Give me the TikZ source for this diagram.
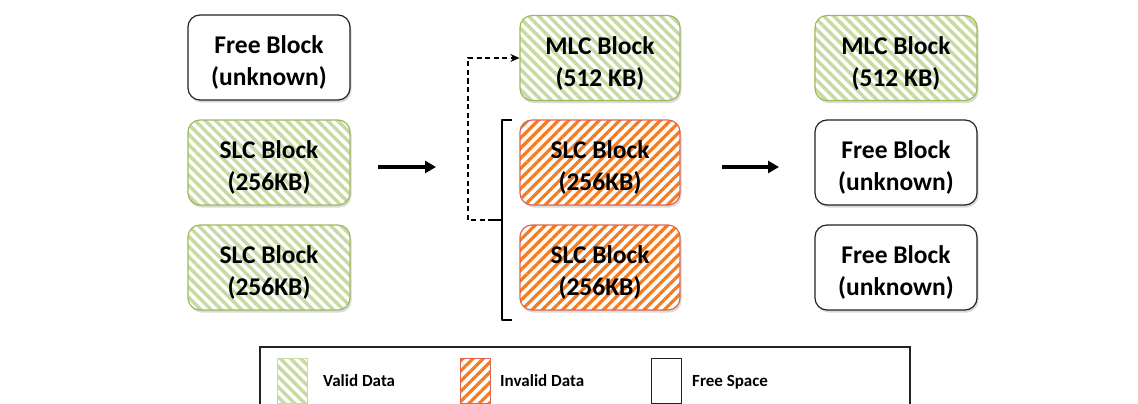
\documentclass[tikz,border=0pt]{standalone}
\usepackage{fontspec}
\setmainfont{Carlito}
\usetikzlibrary{patterns.meta,shadows,arrows.meta}
\definecolor{gstripe}{HTML}{C8DAA2}
\definecolor{gborder}{HTML}{9BBB59}
\definecolor{ostripe}{HTML}{F47B20}
\definecolor{oborder}{HTML}{E0654E}
\definecolor{dgray}{HTML}{222222}
\tikzset{
  blk/.style={rounded corners=12pt, minimum width=162pt, minimum height=85pt, align=center,
    font=\fontsize{25.5}{32}\selectfont\bfseries, inner sep=0pt, line width=1.2pt,
    text height=60pt,
    drop shadow={shadow xshift=1.5pt, shadow yshift=-2.5pt, opacity=.3},
    preaction={fill=white}},
  validblk/.style={blk, draw=gborder, pattern={Lines[angle=-45,distance=7.2pt,line width=3.4pt]}, pattern color=gstripe},
  invalidblk/.style={blk, draw=oborder, pattern={Lines[angle=45,distance=7.2pt,line width=3.2pt]}, pattern color=ostripe},
  freeblk/.style={blk, draw=dgray},
  swatch/.style={minimum width=30pt, minimum height=45pt, inner sep=0pt, line width=1pt},
  legtext/.style={anchor=base west, font=\fontsize{17}{20}\selectfont\bfseries, inner sep=0pt},
  bigarrow/.style={line width=3.5pt, -{Triangle[length=11pt,width=12pt]}},
}
\begin{document}
\begin{tikzpicture}[x=1pt,y=-1pt]
\useasboundingbox (0,0) rectangle (1138,404);
\clip (0,0) rectangle (1138,404);
% left column
\node[freeblk] (l1) at (269,57.5) {Free Block\\(unknown)};
\node[validblk] (l2) at (269,162.5) {SLC Block\\(256KB)};
\node[validblk] (l3) at (269,267.5) {SLC Block\\(256KB)};
% middle column
\node[validblk, minimum width=160pt] (m1) at (600,58) {MLC Block\\(512 KB)};
\node[invalidblk, minimum width=160pt] (m2) at (600,162.5) {SLC Block\\(256KB)};
\node[invalidblk, minimum width=160pt] (m3) at (600,267.5) {SLC Block\\(256KB)};
% right column
\node[validblk] (r1) at (896,58) {MLC Block\\(512 KB)};
\node[freeblk] (r2) at (896,162.5) {Free Block\\(unknown)};
\node[freeblk] (r3) at (896,267.5) {Free Block\\(unknown)};
% arrows
\coordinate (a1s) at (378,167);
\coordinate (a1e) at (436,167);
\coordinate (a2s) at (722,167);
\coordinate (a2e) at (779,167);
\draw[bigarrow] (a1s) -- (a1e);
\draw[bigarrow] (a2s) -- (a2e);
% bracket
\coordinate (bt) at (512,120);
\coordinate (bb) at (512,320);
\coordinate (bm) at (493,220);
\draw[line width=1.6pt, line join=round] (bt) -- (502,120) -- (502,320) -- (bb);
\draw[line width=1.6pt] (502,220) -- (bm);
\coordinate (dk) at (468,220);
\draw[line width=1.1pt, dash pattern=on 5pt off 3.5pt, -{Stealth[length=9pt,width=8pt]}]
  (bm) -- (dk) |- (m1.west);
% legend
\draw[line width=1.4pt, draw=dgray] (260,347) rectangle (910,420);
\node[swatch, draw=gstripe, pattern={Lines[angle=-45,distance=7.2pt,line width=3.4pt]}, pattern color=gstripe] (sw1) at (292,381) {};
\node[legtext] (t1) at (323,386) {Valid Data};
\node[swatch, draw=oborder, pattern={Lines[angle=45,distance=7.2pt,line width=3.2pt]}, pattern color=ostripe] (sw2) at (475.5,381) {};
\node[legtext] (t2) at (500,386) {Invalid Data};
\node[swatch, draw=dgray, fill=white, drop shadow={shadow xshift=1pt, shadow yshift=-2pt, opacity=.3}] (sw3) at (666,381) {};
\node[legtext] (t3) at (692,386) {Free Space};
\end{tikzpicture}
\end{document}
